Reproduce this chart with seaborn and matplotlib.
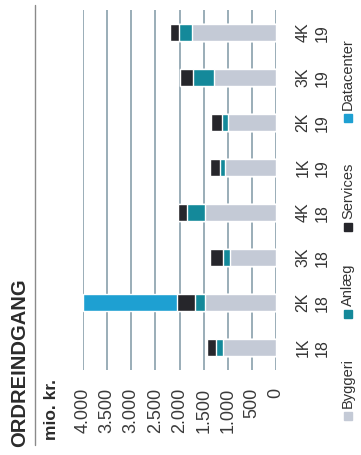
import pandas as pd
import seaborn as sns
import matplotlib.pyplot as plt
from matplotlib.patches import Rectangle

# data (mio. kr.)
quarters = ["1K\n18", "2K\n18", "3K\n18", "4K\n18", "1K\n19", "2K\n19", "3K\n19", "4K\n19"]
byggeri = [1100, 1470, 950, 1470, 1060, 1000, 1290, 1740]
anlaeg = [140, 210, 150, 370, 100, 120, 440, 270]
services = [200, 370, 260, 200, 210, 230, 250, 190]
datacenter = [0, 1950, 0, 0, 0, 0, 0, 0]
value_ticks = [0, 500, 1000, 1500, 2000, 2500, 3000, 3500, 4000]

series = ["Byggeri", "Anlæg", "Services", "Datacenter"]
colors = ["#c4cad6", "#14899a", "#26262b", "#1ea0d2"]

df = pd.DataFrame(
    {
        "kvartal": quarters,
        "Byggeri": byggeri,
        "Anlæg": anlaeg,
        "Services": services,
        "Datacenter": datacenter,
    }
)

# kumulative summer til stablede søjler
cum = df[series].cumsum(axis=1)
cum["kvartal"] = df["kvartal"]

sns.set_style("white")
plt.rcParams["font.family"] = ["Liberation Sans", "DejaVu Sans"]

fig = plt.figure(figsize=(3.61, 4.55), dpi=100)
ax = fig.add_axes([83 / 361, 1 - 370 / 455, 193 / 361, 360 / 455])

order = quarters[::-1]
for name, color in zip(series[::-1], colors[::-1]):
    sns.barplot(
        data=cum,
        x=name,
        y="kvartal",
        order=order,
        color=color,
        width=0.36,
        saturation=1,
        ax=ax,
    )

ax.set_xlim(4000, 0)
ax.set_xticks(value_ticks)
ax.set_xticklabels([f"{v:,}".replace(",", ".") for v in value_ticks])
ax.xaxis.grid(True, color="#7f97a4", linewidth=1.1)
ax.yaxis.grid(False)
ax.set_axisbelow(True)
for s in ax.spines.values():
    s.set_visible(False)
ax.set_xlabel("")
ax.set_ylabel("")

ax.tick_params(axis="x", length=0, pad=13, labelsize=13, labelcolor="#3a3a3a", labelrotation=90)
ax.yaxis.tick_right()
ax.tick_params(axis="y", length=0, pad=14, labelsize=11.5, labelcolor="#333333", labelrotation=90)
for t in ax.get_yticklabels():
    t.set_va("center")
    t.set_ha("left")
    t.set_linespacing(1.35)

# titel
fig.text(20 / 361, 1 - 447 / 455, "ORDREINDGANG", rotation=90, ha="center", va="bottom",
         fontsize=14.5, fontweight="bold", color="#2b2b2b")
fig.text(51 / 361, 1 - 440 / 455, "mio. kr.", rotation=90, ha="center", va="bottom",
         fontsize=12.5, fontweight="bold", color="#2b2b2b")
fig.add_artist(plt.Line2D([35 / 361, 35 / 361], [1 - 445 / 455, 1 - 5 / 455],
                          transform=fig.transFigure, color="#8a8a8a", linewidth=1))

# legende
leg_square = [420, 318, 231, 122]
for name, color, ys in zip(series, colors, leg_square):
    fig.add_artist(Rectangle((344 / 361, 1 - ys / 455), 8 / 361, 8 / 455,
                             transform=fig.transFigure, color=color))
    fig.text(348 / 361, 1 - (ys - 12) / 455, name, rotation=90, ha="center", va="bottom",
             fontsize=10.5, color="#333333")

fig.savefig("out.png", dpi=100)
plt.close(fig)
